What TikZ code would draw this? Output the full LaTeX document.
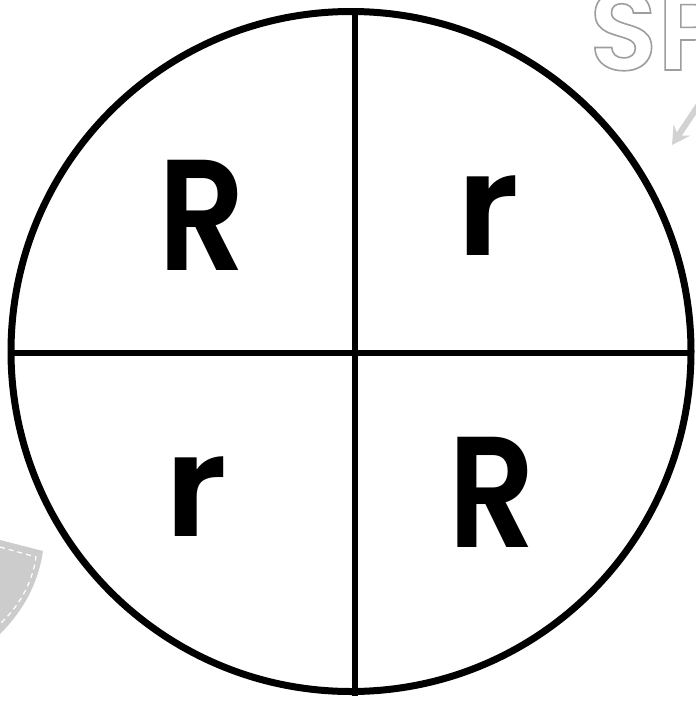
\documentclass[tikz,border=0pt]{standalone}
\usepackage{fontspec}
\usetikzlibrary{arrows.meta}
\newfontfamily\letterfont{Poppins}[UprightFont={* SemiBold}]
\newfontfamily\spfont{Poppins}[UprightFont={* SemiBold}]
\newcommand{\outlinetext}[1]{\special{pdf:literal direct 1 Tr 1.6 w 0.62 G}#1\special{pdf:literal direct 0 Tr 0 G}}
\tikzset{
  bigR/.style={inner sep=0pt, font=\letterfont\fontsize{158}{158}\selectfont},
  smallr/.style={inner sep=0pt, font=\letterfont\fontsize{142}{142}\selectfont},
  divider/.style={line width=5.5pt, black},
  ring/.style={circle, draw, line width=7pt, minimum size=680pt, inner sep=0pt},
}
\begin{document}
\begin{tikzpicture}[x=1pt,y=-1pt]
\useasboundingbox[fill=white] (0,0) rectangle (696,702);
% decorations
\fill[gray!40] (0,540) -- (43,551) .. controls (38,585) and (22,612) .. (0,634) -- cycle;
\draw[white, line width=1.2pt, dash pattern=on 5pt off 4pt] (0,547) -- (36,557) .. controls (32,585) and (18,607) .. (0,624);
\node[anchor=base west, inner sep=0pt, font=\spfont\fontsize{112}{112}\selectfont] (sp) at (589,70) {\outlinetext{SP}};
\coordinate (a1) at (702,100);
\coordinate (a2) at (672,145);
\draw[gray!35, line width=6pt, -{Stealth[length=18pt,width=20pt,inset=7pt]}] (a1) -- (a2);
% circle
\node[ring] (c) at (351,351.5) {};
\coordinate (vt) at (355,8);
\coordinate (vb) at (355,696);
\coordinate (hl) at (10,353);
\coordinate (hr) at (694,353);
\draw[divider] (vt) -- (vb);
\draw[divider] (hl) -- (hr);
\node[bigR] (q1) at (202,215) {\scalebox{0.86}[1]{R}};
\node[smallr] (q2) at (488,216) {\scalebox{1.1}[1]{r}};
\node[smallr] (q3) at (196,497) {\scalebox{1.1}[1]{r}};
\node[bigR] (q4) at (492,492) {\scalebox{0.86}[1]{R}};
\end{tikzpicture}
\end{document}
